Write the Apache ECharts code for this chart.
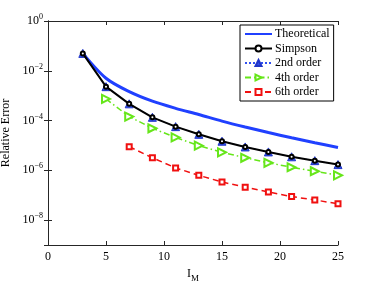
<!DOCTYPE html>
<html>
<head>
<meta charset="utf-8">
<script src="https://cdn.jsdelivr.net/npm/echarts@6/dist/echarts.min.js"></script>
<style>
html,body{margin:0;padding:0;background:#fff;}
#c{width:374px;height:281px;}
</style>
</head>
<body>
<div id="c"></div>
<script>
// Data
var M_all = [3, 5, 7, 9, 11, 13, 15, 17, 19, 21, 23, 25];
var M_4th = [5, 7, 9, 11, 13, 15, 17, 19, 21, 23, 25];
var M_6th = [7, 9, 11, 13, 15, 17, 19, 21, 23, 25];
var theoretical = [5.0e-2, 5.0e-3, 1.45e-3, 6.0e-4, 3.1e-4, 1.74e-4, 9.5e-5, 5.5e-5, 3.3e-5, 2.04e-5, 1.29e-5, 8.3e-6];
var simpson = [5.0e-2, 2.3e-3, 4.7e-4, 1.35e-4, 5.7e-5, 2.8e-5, 1.48e-5, 8.7e-6, 5.5e-6, 3.5e-6, 2.45e-6, 1.7e-6];
var order2 = [5.0e-2, 2.3e-3, 4.7e-4, 1.35e-4, 5.7e-5, 2.8e-5, 1.48e-5, 8.7e-6, 5.5e-6, 3.5e-6, 2.45e-6, 1.7e-6];
var order4 = [7.4e-4, 1.44e-4, 4.9e-5, 2.1e-5, 9.8e-6, 5.3e-6, 3.2e-6, 2.0e-6, 1.33e-6, 9.2e-7, 6.3e-7];
var order6 = [8.9e-6, 3.2e-6, 1.25e-6, 6.3e-7, 3.4e-7, 2.1e-7, 1.35e-7, 8.8e-8, 6.5e-8, 4.5e-8];
var seriesNames = ['Theoretical', 'Simpson', '2nd order', '4th order', '6th order'];
var xTicks = [0, 5, 10, 15, 20, 25];

function zip(xs, ys) { return xs.map(function (x, i) { return [x, ys[i]]; }); }

var FONT = '"Liberation Serif", "DejaVu Serif", serif';
var AX = '#262626';

var chart = echarts.init(document.getElementById('c'), null, {renderer: 'canvas'});

function yFmt(v) {
  var e = Math.round(Math.log10(v));
  if (e % 2 !== 0) return '';
  var s = e === 0 ? '0' : '\u2212' + Math.abs(e);
  return '{b|10}{s|' + s + '}';
}

var yBase = {
  type: 'log', logBase: 100, min: 1e-9, max: 1,
  axisLine: {show: true, lineStyle: {color: AX, width: 1}},
  axisTick: {show: true, inside: true, length: 4, lineStyle: {color: AX}},
  splitLine: {show: false},
  minorTick: {show: false}
};
var xBase = {
  type: 'value', min: xTicks[0], max: xTicks[xTicks.length - 1], interval: 5,
  axisLine: {show: true, onZero: false, lineStyle: {color: AX, width: 1}},
  axisTick: {show: true, inside: true, length: 4, lineStyle: {color: AX}},
  splitLine: {show: false}
};

var legendData = seriesNames.map(function (n, i) {
  return i === 0 ? {name: n, itemStyle: {opacity: 0}} : {name: n};
});

chart.setOption({
  animation: false,
  backgroundColor: '#fff',
  grid: {left: 48, right: 36, top: 21, bottom: 36, containLabel: false, outerBoundsMode: 'none'},
  xAxis: [
    Object.assign({}, xBase, {
      position: 'bottom',
      axisLabel: {color: '#000', fontFamily: FONT, fontSize: 12, margin: 6},
      name: '{i|I}{m|M}',
      nameLocation: 'middle',
      nameGap: 16,
      nameTextStyle: {
        rich: {
          i: {fontFamily: FONT, fontSize: 12, color: '#000'},
          m: {fontFamily: FONT, fontSize: 9, color: '#000', padding: [9, 0, 0, 0]}
        }
      }
    }),
    Object.assign({}, xBase, {position: 'top', axisLabel: {show: false}})
  ],
  yAxis: [
    Object.assign({}, yBase, {
      position: 'left',
      axisLabel: {
        formatter: yFmt, margin: 5,
        rich: {
          b: {fontFamily: FONT, fontSize: 12, color: '#000'},
          s: {fontFamily: FONT, fontSize: 8, color: '#000', padding: [0, 0, 8, 0]}
        }
      },
      name: 'Relative Error',
      nameLocation: 'middle',
      nameGap: 30,
      nameTextStyle: {fontFamily: FONT, fontSize: 12, color: '#000'}
    }),
    Object.assign({}, yBase, {position: 'right', axisLabel: {show: false}})
  ],
  legend: {
    data: legendData,
    orient: 'vertical',
    left: 240, top: 25,
    padding: [3, 4, 3, 4],
    itemGap: 2.5,
    itemWidth: 27,
    itemHeight: 7.5,
    borderColor: '#000', borderWidth: 1, borderRadius: 0,
    backgroundColor: '#fff',
    textStyle: {fontFamily: FONT, fontSize: 12, color: '#000', padding: [0, 0, 0, -2]}
  },
  series: [
    {
      name: seriesNames[0], type: 'line', data: zip(M_all, theoretical),
      smooth: 0.3, showSymbol: false, symbol: 'none',
      lineStyle: {color: '#2040ff', width: 3},
      itemStyle: {color: '#2040ff'}, z: 2
    },
    {
      name: seriesNames[2], type: 'line', data: zip(M_all, order2),
      symbol: 'triangle', symbolSize: 8,
      lineStyle: {color: '#3050f0', width: 1, type: 'dotted'},
      itemStyle: {color: '#3050e8', borderColor: '#2035c8', borderWidth: 1}, z: 3
    },
    {
      name: seriesNames[1], type: 'line', data: zip(M_all, simpson),
      symbol: 'emptyCircle', symbolSize: 4,
      lineStyle: {color: '#000', width: 2},
      itemStyle: {color: '#000', borderColor: '#000', borderWidth: 1.2}, z: 4
    },
    {
      name: seriesNames[3], type: 'line', data: zip(M_4th, order4),
      symbol: 'emptyTriangle', symbolSize: 8, symbolRotate: -90,
      lineStyle: {color: '#66e61a', width: 1.5, type: [6, 3, 1.5, 3]},
      itemStyle: {color: '#66e61a', borderColor: '#66e61a', borderWidth: 1.5}, z: 3
    },
    {
      name: seriesNames[4], type: 'line', data: zip(M_6th, order6),
      symbol: 'emptyRect', symbolSize: 5,
      lineStyle: {color: '#f01010', width: 1.5, type: [6, 4]},
      itemStyle: {color: '#f01010', borderColor: '#f01010', borderWidth: 1.8}, z: 3
    }
  ]
});
</script>
</body>
</html>
